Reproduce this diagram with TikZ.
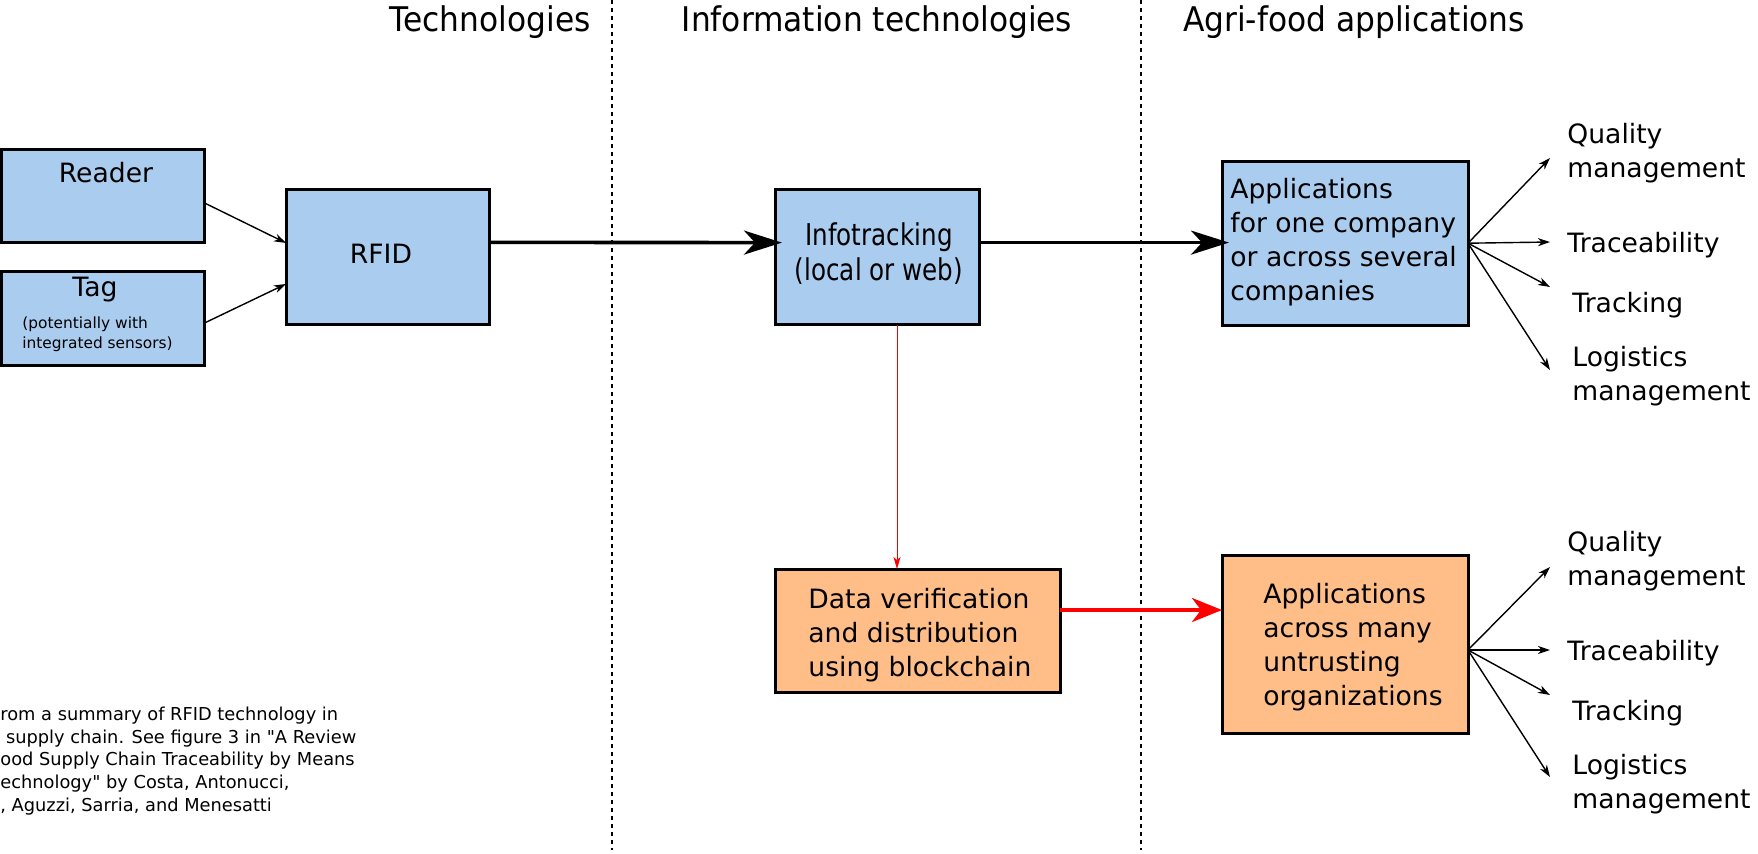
\documentclass[tikz,border=0pt]{standalone}
\usepackage{fontspec}
\setmainfont{DejaVu Sans}
\newfontfamily\headfont{DejaVu Sans}[FakeStretch=0.92]
\newfontfamily\infofont{DejaVu Sans}[FakeStretch=0.82]
\newcommand\straightdq{\XeTeXglyph\XeTeXcharglyph34\relax}
\usetikzlibrary{arrows.meta}
\definecolor{boxblue}{RGB}{170,204,238}
\definecolor{boxorange}{RGB}{255,190,135}
\definecolor{redline}{RGB}{255,0,0}
\begin{document}
\begin{tikzpicture}[x=0.5pt,y=-0.5pt,
  box/.style={draw=black, line width=1.5pt, inner sep=0pt, outer sep=0pt},
  boxtext/.style={font=\fontsize{13.3}{17}\selectfont, align=left, inner sep=0pt},
  lbl/.style={font=\fontsize{13.3}{17}\selectfont, align=left, anchor=west, inner sep=0pt},
  headtext/.style={font=\fontsize{17}{20}\selectfont\headfont, inner sep=0pt, anchor=base},
  bigarrow/.style={line width=1.8pt, shorten >=-3.5pt, -{Stealth[length=19pt,width=12pt,inset=5.5pt]}},
  redbig/.style={draw=redline, line width=1.8pt, -{Stealth[length=15pt,width=12pt,inset=4.5pt]}},
  thinarrow/.style={line width=0.7pt, -{Stealth[length=6pt,width=4pt,inset=1.8pt]}},
  redthin/.style={draw=redline, line width=0.5pt, -{Stealth[length=6pt,width=3.5pt,inset=1.5pt]}},
  sep/.style={line width=0.6pt, dash pattern=on 2pt off 2pt}]
\useasboundingbox (0,0) rectangle (1758,853);

% separators
\coordinate (s1t) at (612,0); \coordinate (s1b) at (612,850);
\coordinate (s2t) at (1141,0); \coordinate (s2b) at (1141,850);
\draw[sep] (s1t) -- (s1b);
\draw[sep] (s2t) -- (s2b);

% headings
\node[headtext] (h1) at (490,31) {Technologies};
\node[headtext] (h2) at (877,31) {Information technologies};
\node[headtext] (h3) at (1354,31) {Agri-food applications};

% boxes
\node[box, fill=boxblue, minimum width=101.75pt, minimum height=46.75pt] (reader) at (102.75,195.75) {};
\node[boxtext] (readert) at (106,173) {Reader};
\node[box, fill=boxblue, minimum width=101.75pt, minimum height=47pt] (tag) at (102.75,318) {};
\node[boxtext] (tagt) at (95,290) {Tag};
\node[font=\fontsize{7.7}{10}\selectfont, align=left, anchor=west, inner sep=0pt] (tags) at (22,334) {(potentially with\\integrated sensors)};
\node[box, fill=boxblue, minimum width=101.75pt, minimum height=67.25pt] (rfid) at (387.75,256.75) {};
\node[boxtext] (rfidt) at (381,254) {RFID};
\node[box, fill=boxblue, minimum width=102pt, minimum height=67.5pt] (info) at (877,257) {};
\node[font=\fontsize{15}{17.5}\selectfont\infofont, align=center, inner sep=0pt] (infot) at (879,254) {Infotracking\\(local or web)};
\node[box, fill=boxblue, minimum width=123pt, minimum height=81.8pt] (apps1) at (1345,243.2) {};
\node[boxtext, anchor=west] (apps1t) at (1230,242.5) {Applications\\for one company\\or across several\\companies};
\node[box, fill=boxorange, minimum width=142.5pt, minimum height=61.5pt] (data) at (917.5,630.5) {};
\node[boxtext, anchor=west] (datat) at (808,635) {Data verification\\and distribution\\using blockchain};
\node[box, fill=boxorange, minimum width=123pt, minimum height=89pt] (apps2) at (1345,644) {};
\node[boxtext, anchor=west] (apps2t) at (1263,647) {Applications\\across many\\untrusting\\organizations};

% connectors
\draw[thinarrow] ([yshift=-3.6pt]reader.east) -- ([yshift=6.9pt]rfid.west);
\draw[thinarrow] ([yshift=-2.5pt]tag.east) -- ([yshift=-13.6pt]rfid.west);
\draw[bigarrow] ([yshift=7.2pt]rfid.east) -- ([yshift=7.2pt]info.west);
\draw[bigarrow] ([yshift=7.2pt]info.east) -- ([yshift=7.2pt]info.east -| apps1.west);
\draw[redthin] ([xshift=10pt]info.south) -- ([xshift=10pt]info.south |- data.north);
\draw[redbig] ([yshift=10.25pt]data.east) -- ([yshift=10.25pt]data.east -| apps2.west);

% right labels top
\coordinate (q1) at (1550,158);
\coordinate (t1) at (1550,242);
\coordinate (k1) at (1550,287);
\coordinate (l1) at (1550,370);
\draw[thinarrow] (apps1.east) -- (q1);
\draw[thinarrow] (apps1.east) -- (t1);
\draw[thinarrow] (apps1.east) -- (k1);
\draw[thinarrow] (apps1.east) -- (l1);
\node[lbl] (lq1) at (1567,153.5) {Quality\\management};
\node[lbl] (lt1) at (1567,245.5) {Traceability};
\node[lbl] (lk1) at (1572,305.5) {Tracking};
\node[lbl] (ll1) at (1572,376.5) {Logistics\\management};

% right labels bottom
\coordinate (q2) at (1550,567);
\coordinate (t2) at (1550,650);
\coordinate (k2) at (1550,695);
\coordinate (l2) at (1550,777);
\draw[thinarrow] ([yshift=-3pt]apps2.east) -- (q2);
\draw[thinarrow] ([yshift=-3pt]apps2.east) -- (t2);
\draw[thinarrow] ([yshift=-3pt]apps2.east) -- (k2);
\draw[thinarrow] ([yshift=-3pt]apps2.east) -- (l2);
\node[lbl] (lq2) at (1567,561.5) {Quality\\management};
\node[lbl] (lt2) at (1567,653.5) {Traceability};
\node[lbl] (lk2) at (1572,713.5) {Tracking};
\node[lbl] (ll2) at (1572,784.5) {Logistics\\management};

% source note
\node[font=\fontsize{8.9}{11.35}\selectfont, align=left, anchor=west, inner sep=0pt] (note) at (0,761)
 {rom a summary of RFID technology in\\\hspace*{2.8pt}supply chain. See figure 3 in \straightdq A Review\\ood Supply Chain Traceability by Means\\echnology\straightdq{} by Costa, Antonucci,\\, Aguzzi, Sarria, and Menesatti};
\end{tikzpicture}
\end{document}
